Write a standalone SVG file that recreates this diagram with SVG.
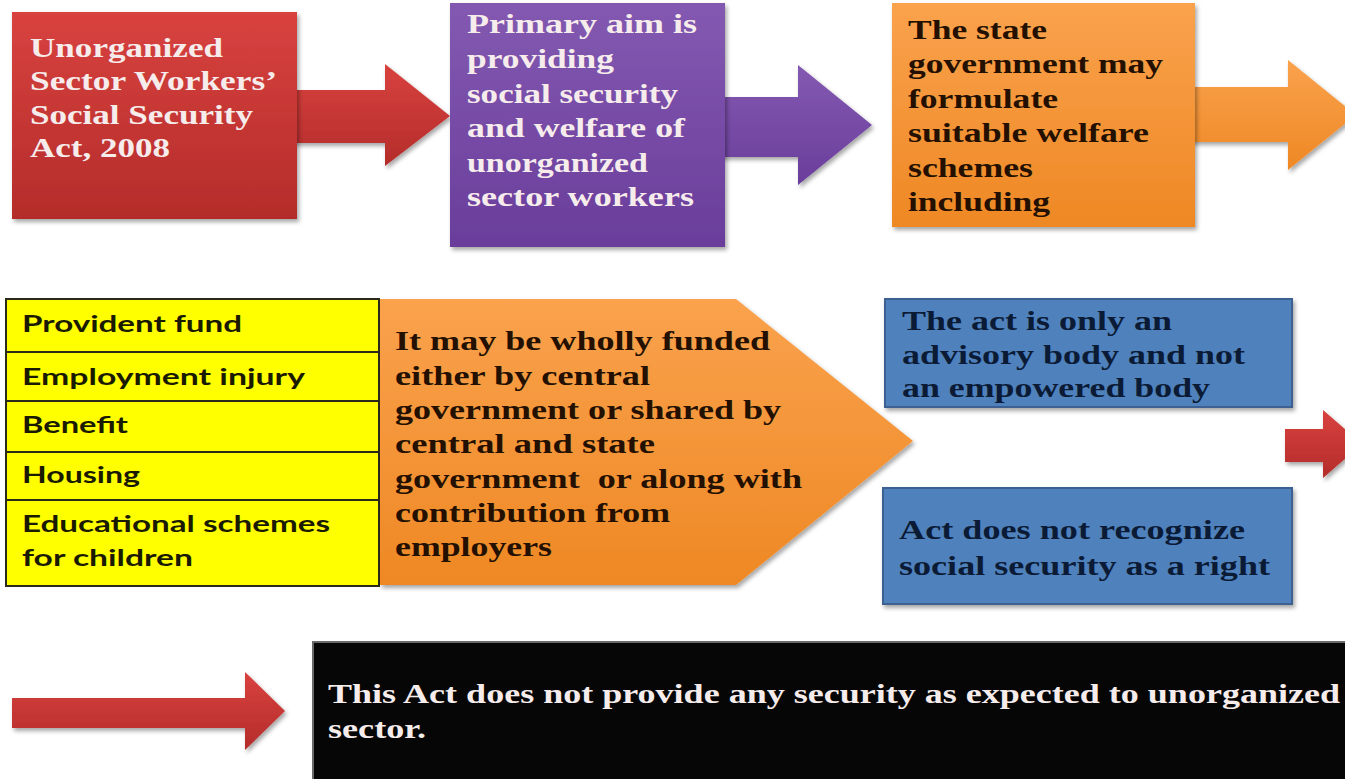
<svg xmlns="http://www.w3.org/2000/svg" width="1345" height="779" viewBox="0 0 1345 779">
<defs>
<linearGradient id="gRed" x1="0" y1="0" x2="0" y2="1"><stop offset="0" stop-color="#d8423f"/><stop offset="1" stop-color="#b42c2a"/></linearGradient>
<linearGradient id="gPur" x1="0" y1="0" x2="0" y2="1"><stop offset="0" stop-color="#8359b1"/><stop offset="1" stop-color="#6a3d9b"/></linearGradient>
<linearGradient id="gOra" x1="0" y1="0" x2="0" y2="1"><stop offset="0" stop-color="#faa24d"/><stop offset="1" stop-color="#ee8824"/></linearGradient>
<filter id="sh" x="-10%" y="-10%" width="125%" height="130%"><feDropShadow dx="2" dy="3" stdDeviation="2" flood-color="#000" flood-opacity="0.35"/></filter>
<style>
.serif{font-family:"Liberation Serif","Times New Roman",serif;font-weight:bold;font-size:28px}
.w{fill:#f6ecec}
.dk{fill:#241000}
.nv{fill:#0b1b35}
.sans{font-family:Lato,"Open Sans",sans-serif;font-weight:bold;font-size:23px;fill:#1a1a00}
.blue{fill:#4f81bd;stroke:#3a6191;stroke-width:2}
.cell{fill:#ffff00;stroke:#2a2a1a;stroke-width:2}
</style>
</defs>
<rect width="1345" height="779" fill="#ffffff"/>

<g id="connectors">
<path d="M290,90 L385,90 L385,64 L450,116 L385,166 L385,143 L290,143 Z" fill="url(#gRed)" filter="url(#sh)"/>
<path d="M718,97 L798,97 L798,65 L872,125 L798,185 L798,157 L718,157 Z" fill="url(#gPur)" filter="url(#sh)"/>
<path d="M1190,87 L1288,87 L1288,60 L1356,115 L1288,170 L1288,142 L1190,142 Z" fill="url(#gOra)" filter="url(#sh)"/>
<path d="M1285,429 L1323,429 L1323,410 L1362,444 L1323,478 L1323,462 L1285,462 Z" fill="url(#gRed)" filter="url(#sh)"/>
<path d="M12,698 L245,698 L245,672 L285,711 L245,750 L245,728 L12,728 Z" fill="url(#gRed)" filter="url(#sh)"/>
</g>

<g id="act2008">
<rect x="12" y="12" width="285" height="207" fill="url(#gRed)" filter="url(#sh)"/>
<text class="serif w" x="30" y="57" textLength="193" lengthAdjust="spacingAndGlyphs">Unorganized</text>
<text class="serif w" x="30" y="90" textLength="247" lengthAdjust="spacingAndGlyphs">Sector Workers’</text>
<text class="serif w" x="30" y="124" textLength="223" lengthAdjust="spacingAndGlyphs">Social Security</text>
<text class="serif w" x="30" y="157" textLength="140" lengthAdjust="spacingAndGlyphs">Act, 2008</text>
</g>

<g id="primaryAim">
<rect x="450" y="3" width="275" height="244" fill="url(#gPur)" filter="url(#sh)"/>
<text class="serif w" x="467" y="33" textLength="230" lengthAdjust="spacingAndGlyphs">Primary aim is</text>
<text class="serif w" x="467" y="68" textLength="147" lengthAdjust="spacingAndGlyphs">providing</text>
<text class="serif w" x="467" y="103" textLength="211" lengthAdjust="spacingAndGlyphs">social security</text>
<text class="serif w" x="467" y="137" textLength="218" lengthAdjust="spacingAndGlyphs">and welfare of</text>
<text class="serif w" x="467" y="172" textLength="181" lengthAdjust="spacingAndGlyphs">unorganized</text>
<text class="serif w" x="467" y="206" textLength="227" lengthAdjust="spacingAndGlyphs">sector workers</text>
</g>

<g id="stateGov">
<rect x="892" y="3" width="303" height="224" fill="url(#gOra)" filter="url(#sh)"/>
<text class="serif dk" x="908" y="39" textLength="139" lengthAdjust="spacingAndGlyphs">The state</text>
<text class="serif dk" x="908" y="73" textLength="255" lengthAdjust="spacingAndGlyphs">government may</text>
<text class="serif dk" x="908" y="108" textLength="150" lengthAdjust="spacingAndGlyphs">formulate</text>
<text class="serif dk" x="908" y="142" textLength="241" lengthAdjust="spacingAndGlyphs">suitable welfare</text>
<text class="serif dk" x="908" y="177" textLength="125" lengthAdjust="spacingAndGlyphs">schemes</text>
<text class="serif dk" x="908" y="211" textLength="142" lengthAdjust="spacingAndGlyphs">including</text>
</g>

<g id="schemesTable">
<rect class="cell" x="6" y="299" width="373" height="53"/>
<rect class="cell" x="6" y="352" width="373" height="49"/>
<rect class="cell" x="6" y="401" width="373" height="51"/>
<rect class="cell" x="6" y="452" width="373" height="48"/>
<rect class="cell" x="6" y="500" width="373" height="86"/>
<text class="sans" x="22" y="332" textLength="220" lengthAdjust="spacingAndGlyphs">Provident fund</text>
<text class="sans" x="22" y="385" textLength="283" lengthAdjust="spacingAndGlyphs">Employment injury</text>
<text class="sans" x="22" y="433" textLength="106" lengthAdjust="spacingAndGlyphs">Benefit</text>
<text class="sans" x="22" y="483" textLength="118" lengthAdjust="spacingAndGlyphs">Housing</text>
<text class="sans" x="22" y="532" textLength="308" lengthAdjust="spacingAndGlyphs">Educational schemes</text>
<text class="sans" x="22" y="566" textLength="171" lengthAdjust="spacingAndGlyphs">for children</text>
</g>

<g id="funding">
<path d="M380,299 L736,299 L913,441 L736,585 L380,585 Z" fill="url(#gOra)" filter="url(#sh)"/>
<text class="serif dk" x="395" y="350" textLength="375" lengthAdjust="spacingAndGlyphs">It may be wholly funded</text>
<text class="serif dk" x="395" y="385" textLength="255" lengthAdjust="spacingAndGlyphs">either by central</text>
<text class="serif dk" x="395" y="419" textLength="386" lengthAdjust="spacingAndGlyphs">government or shared by</text>
<text class="serif dk" x="395" y="453" textLength="260" lengthAdjust="spacingAndGlyphs">central and state</text>
<text class="serif dk" x="395" y="488" textLength="407" lengthAdjust="spacingAndGlyphs" xml:space="preserve">government  or along with</text>
<text class="serif dk" x="395" y="522" textLength="275" lengthAdjust="spacingAndGlyphs">contribution from</text>
<text class="serif dk" x="395" y="556" textLength="157" lengthAdjust="spacingAndGlyphs">employers</text>
</g>

<g id="advisory">
<rect class="blue" x="885" y="299" width="407" height="108" filter="url(#sh)"/>
<text class="serif nv" x="902" y="330" textLength="270" lengthAdjust="spacingAndGlyphs">The act is only an</text>
<text class="serif nv" x="902" y="364" textLength="343" lengthAdjust="spacingAndGlyphs">advisory body and not</text>
<text class="serif nv" x="902" y="397" textLength="308" lengthAdjust="spacingAndGlyphs">an empowered body</text>
</g>

<g id="notRight">
<rect class="blue" x="883" y="488" width="409" height="116" filter="url(#sh)"/>
<text class="serif nv" x="899" y="539" textLength="346" lengthAdjust="spacingAndGlyphs">Act does not recognize</text>
<text class="serif nv" x="899" y="575" textLength="371" lengthAdjust="spacingAndGlyphs">social security as a right</text>
</g>

<g id="conclusion">
<rect x="313" y="642" width="1040" height="140" fill="#060606" stroke="#6a6a6a" stroke-width="2"/>
<text class="serif w" x="328" y="703" textLength="1012" lengthAdjust="spacingAndGlyphs">This Act does not provide any security as expected to unorganized</text>
<text class="serif w" x="328" y="738" textLength="98" lengthAdjust="spacingAndGlyphs">sector.</text>
</g>
</svg>
